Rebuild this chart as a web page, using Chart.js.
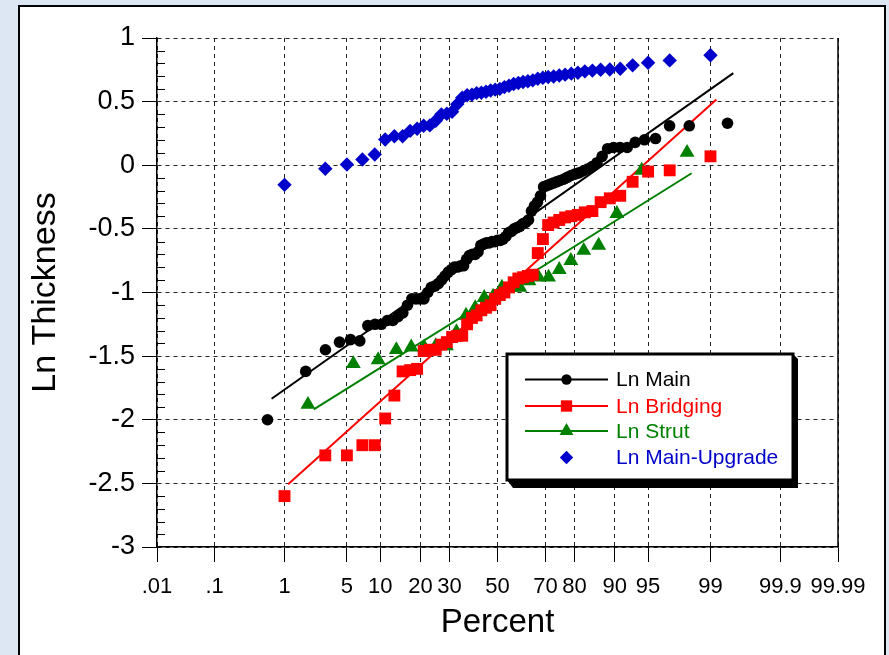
<!DOCTYPE html>
<html><head><meta charset="utf-8">
<script src="https://cdn.jsdelivr.net/npm/chart.js@4.4.0/dist/chart.umd.min.js"></script>
<style>
html,body{margin:0;padding:0;width:889px;height:655px;overflow:hidden;background:#dde7f3;}
#panel{position:absolute;left:18px;top:5px;width:868px;height:700px;background:#fff;border:2px solid #000;box-sizing:border-box;}
#wrap{position:absolute;left:0;top:0;width:889px;height:655px;}
</style></head><body>
<div id="panel"></div>
<div id="wrap"><canvas id="c" width="889" height="655"></canvas></div>
<script>
// ---- tick labels (percent axis) ----
const percentTicks = [0.01, 0.1, 1, 5, 10, 20, 30, 50, 70, 80, 90, 95, 99, 99.9, 99.99];
const percentTickLabels = ['.01', '.1', '1', '5', '10', '20', '30', '50', '70', '80', '90', '95', '99', '99.9', '99.99'];
const yTicks = [-3, -2.5, -2, -1.5, -1, -0.5, 0, 0.5, 1];

// ---- Ln Main ----
const mainPct = [0.60,1.81,3.01,4.22,5.42,6.63,7.83,9.04,10.24,11.45,12.65,13.86,15.06,16.27,17.47,18.67,19.88,21.08,22.29,23.49,24.70,25.90,27.11,28.31,29.52,30.72,31.93,33.13,34.34,35.54,36.75,37.95,39.16,40.36,41.57,42.77,43.98,45.18,46.39,47.59,48.80,50.00,51.20,52.41,53.61,54.82,56.02,57.23,58.43,59.64,60.84,62.05,63.25,64.46,65.66,66.87,68.07,69.28,70.48,71.69,72.89,74.10,75.30,76.51,77.71,78.92,80.12,81.33,82.53,83.73,84.94,86.14,87.35,88.55,89.76,90.96,92.17,93.37,94.58,95.78,96.99,98.19,99.40];
const mainVal = [-2.00,-1.62,-1.45,-1.39,-1.37,-1.38,-1.26,-1.25,-1.25,-1.22,
 -1.22,-1.19,-1.16,-1.10,-1.05,-1.05,-1.05,-1.05,-1.00,-0.96,
 -0.95,-0.93,-0.90,-0.87,-0.84,-0.82,-0.80,-0.80,-0.79,-0.79,
 -0.74,-0.71,-0.70,-0.70,-0.68,-0.63,-0.62,-0.61,-0.61,-0.60,
 -0.60,-0.59,-0.59,-0.58,-0.56,-0.53,-0.52,-0.50,-0.49,-0.48,
 -0.46,-0.45,-0.43,-0.36,-0.32,-0.29,-0.24,-0.17,-0.16,-0.15,
 -0.14,-0.13,-0.12,-0.11,-0.095,-0.08,-0.07,-0.06,-0.045,-0.03,
 -0.01,0.02,0.07,0.13,0.14,0.14,0.14,0.18,0.20,0.21,
 0.31,0.31,0.33];
const mainFitPct = [0.68, 99.5];
const mainFitVal = [-1.835, 0.724];

// ---- Ln Bridging ----
const bridgingPct = [1,3,5,7,9,11,13,15,17,19,21,23,25,27,29,31,33,35,37,39,41,43,45,47,49,51,53,55,57,59,61,63,65,67,69,71,73,75,77,79,81,83,85,87,89,91,93,95,97,99];
const bridgingVal = [-2.60,-2.28,-2.28,-2.20,-2.20,-1.99,-1.81,-1.62,-1.61,-1.60,
 -1.46,-1.45,-1.45,-1.41,-1.39,-1.35,-1.34,-1.34,-1.25,-1.20,
 -1.18,-1.14,-1.12,-1.10,-1.05,-1.02,-1.00,-0.96,-0.92,-0.89,
 -0.88,-0.87,-0.86,-0.69,-0.58,-0.47,-0.45,-0.43,-0.41,-0.40,
 -0.39,-0.37,-0.36,-0.29,-0.26,-0.24,-0.13,-0.05,-0.04,0.07];
const bridgingFitPct = [1.11, 99.16];
const bridgingFitVal = [-2.506, 0.517];

// ---- Ln Strut ----
const strutPct = [1.92,5.77,9.62,13.46,17.31,21.15,25.00,28.85,32.69,36.54,40.38,44.23,48.08,51.92,55.77,59.62,63.46,67.31,71.15,75.00,78.85,82.69,86.54,90.38,94.23,98.08];
const strutVal = [-1.88,-1.56,-1.53,-1.45,-1.43,-1.43,-1.42,-1.42,-1.31,-1.18,-1.12,-1.04,-1.03,-0.96,-0.96,-0.96,-0.91,-0.88,-0.88,-0.82,-0.75,-0.67,-0.63,-0.38,-0.04,0.10];
const strutFitPct = [2.24, 98.3];
const strutFitVal = [-1.918, -0.063];

// ---- Ln Main-Upgrade ----
const upgradePct = [1,3,5,7,9,11,13,15,17,19,21,23,25,27,29,31,33,35,37,39,41,43,45,47,49,51,53,55,57,59,61,63,65,67,69,71,73,75,77,79,81,83,85,87,89,91,93,95,97,99];
const upgradeVal = [-0.154,-0.028,0.006,0.045,0.084,0.202,0.228,0.228,0.27,0.287,
 0.31,0.313,0.35,0.40,0.405,0.42,0.48,0.53,0.55,0.555,
 0.567,0.57,0.578,0.588,0.594,0.60,0.614,0.625,0.638,0.646,
 0.654,0.66,0.667,0.68,0.688,0.693,0.698,0.705,0.712,0.72,
 0.727,0.738,0.744,0.75,0.753,0.758,0.785,0.806,0.824,0.864];

// inverse normal CDF (probability scale transform)
function probit(p){
 const a=[-3.969683028665376e+01,2.209460984245205e+02,-2.759285104469687e+02,1.383577518672690e+02,-3.066479806614716e+01,2.506628277459239e+00];
 const b=[-5.447609879822406e+01,1.615858368580409e+02,-1.556989798598866e+02,6.680131188771972e+01,-1.328068155288572e+01];
 const c=[-7.784894002430293e-03,-3.223964580411365e-01,-2.400758277161838e+00,-2.549732539343734e+00,4.374664141464968e+00,2.938163982698783e+00];
 const d=[7.784695709041462e-03,3.224671290700398e-01,2.445134137142996e+00,3.754408661907416e+00];
 const pl=0.02425, ph=1-pl; let q,r;
 if(p<pl){q=Math.sqrt(-2*Math.log(p));return (((((c[0]*q+c[1])*q+c[2])*q+c[3])*q+c[4])*q+c[5])/((((d[0]*q+d[1])*q+d[2])*q+d[3])*q+1);}
 if(p<=ph){q=p-0.5;r=q*q;return (((((a[0]*r+a[1])*r+a[2])*r+a[3])*r+a[4])*r+a[5])*q/(((((b[0]*r+b[1])*r+b[2])*r+b[3])*r+b[4])*r+1);}
 q=Math.sqrt(-2*Math.log(1-p));return -(((((c[0]*q+c[1])*q+c[2])*q+c[3])*q+c[4])*q+c[5])/((((d[0]*q+d[1])*q+d[2])*q+d[3])*q+1);
}
const toZ = p => probit(p/100);
const pts = (pct, val) => pct.map((p,i)=>({x: toZ(p), y: val[i]}));

const FONT = "'Liberation Sans', Arial, Helvetica, sans-serif";
Chart.defaults.font.family = FONT;
Chart.defaults.color = '#000';

const series = [
 {label:'Ln Main', color:'#000000', style:'circle', r:5.8, line:true},
 {label:'Ln Bridging', color:'#ff0000', style:'rect', r:8.4, line:true},
 {label:'Ln Strut', color:'#008000', style:'triangle', r:8.6, line:true},
 {label:'Ln Main-Upgrade', color:'#0000cc', style:'rectRot', r:7.2, line:false}
];

function marker(ctx, style, x, y, r, color){
 ctx.fillStyle = color; ctx.beginPath();
 if(style==='circle'){ctx.arc(x,y,r,0,Math.PI*2);}
 else if(style==='rect'){const s=r*Math.SQRT1_2;ctx.rect(x-s,y-s,2*s,2*s);}
 else if(style==='triangle'){for(let k=0;k<3;k++){const a=k*2*Math.PI/3;const px=x+Math.sin(a)*r, py=y-Math.cos(a)*r; k?ctx.lineTo(px,py):ctx.moveTo(px,py);}ctx.closePath();}
 else if(style==='rectRot'){ctx.moveTo(x-r,y);ctx.lineTo(x,y-r);ctx.lineTo(x+r,y);ctx.lineTo(x,y+r);ctx.closePath();}
 ctx.fill();
}

const extras = {
 id:'extras',
 afterDraw(chart){
  const ctx = chart.ctx, {left,right,top,bottom} = chart.chartArea, ys = chart.scales.y;
  ctx.save();
  ctx.strokeStyle = '#000'; ctx.lineWidth = 1;
  for(let i=-29;i<=9;i++){
   if(i%5===0) continue;
   const py = Math.round(ys.getPixelForValue(i/10))+0.5;
   ctx.beginPath(); ctx.moveTo(left,py); ctx.lineTo(left+8,py); ctx.stroke();
  }
  ctx.lineWidth = 1.5;
  ctx.beginPath(); ctx.moveTo(right, top); ctx.lineTo(right, bottom); ctx.stroke();
  // legend
  const lx=507, ly=354, lw=286, lh=126;
  ctx.fillStyle='#000';
  ctx.beginPath(); ctx.moveTo(lx+lw,ly); ctx.lineTo(lx+lw+5,ly+5); ctx.lineTo(lx+lw+5,ly+lh+8); ctx.lineTo(lx+6,ly+lh+8); ctx.lineTo(lx,ly+lh); ctx.closePath(); ctx.fill();
  ctx.fillStyle='#fff'; ctx.fillRect(lx,ly,lw,lh);
  ctx.lineWidth=3; ctx.strokeStyle='#000'; ctx.strokeRect(lx,ly,lw,lh);
  const rows=[379.5,406,431,457.5];
  ctx.font = '21px ' + FONT; ctx.textBaseline='middle'; ctx.textAlign='left';
  series.forEach((s,i)=>{
   const y=rows[i];
   if(s.line){ctx.strokeStyle=s.color;ctx.lineWidth=2;ctx.beginPath();ctx.moveTo(525,y);ctx.lineTo(608,y);ctx.stroke();}
   marker(ctx, s.style, 566.5, y, s.style==='circle'?5.2:s.style==='rect'?8:s.style==='triangle'?8:6.7, s.color);
   ctx.fillStyle=s.color; ctx.fillText(s.label, 616, y+1);
  });
  ctx.restore();
 }
};

const pointSets = [pts(mainPct,mainVal), pts(bridgingPct,bridgingVal), pts(strutPct,strutVal), pts(upgradePct,upgradeVal)];
const fitSets = [pts(mainFitPct,mainFitVal), pts(bridgingFitPct,bridgingFitVal), pts(strutFitPct,strutFitVal)];

const datasets = [];
series.forEach((s,i)=>{
 datasets.push({label:s.label, data:pointSets[i], showLine:false, pointStyle:s.style, pointRadius:s.r, pointBackgroundColor:s.color, pointBorderWidth:0, backgroundColor:s.color, borderColor:s.color});
});
fitSets.forEach((d,i)=>{
 datasets.push({label:series[i].label+' fit', data:d, showLine:true, pointRadius:0, borderColor:series[i].color, borderWidth:2, fill:false});
});

new Chart(document.getElementById('c'), {
 type:'scatter',
 data:{datasets},
 options:{
  responsive:false, animation:false, devicePixelRatio:1, events:[],
  layout:{padding:{left:0, top:38, right:51, bottom:0}},
  plugins:{legend:{display:false}, tooltip:{enabled:false}},
  scales:{
   x:{type:'linear', min:toZ(percentTicks[0]), max:toZ(percentTicks[percentTicks.length-1]),
    afterBuildTicks:(s)=>{s.ticks = percentTicks.map(p=>({value:toZ(p)}));},
    afterFit:(s)=>{s.height=108;},
    ticks:{autoSkip:false, maxRotation:0, minRotation:0, padding:12, color:'#000', font:{size:22}, callback:(v,i)=>percentTickLabels[i]},
    grid:{color:'#222', lineWidth:1, drawTicks:true, tickLength:15, tickColor:'#000', tickWidth:1, tickBorderDash:[]},
    border:{display:true, color:'#000', width:1.5, dash:[4,4]},
    title:{display:true, text:'Percent', color:'#000', font:{size:33}, padding:{top:0,bottom:12}}
   },
   y:{type:'linear', min:-3, max:1,
    afterBuildTicks:(s)=>{s.ticks = yTicks.map(v=>({value:v}));},
    afterFit:(s)=>{s.width=157;},
    ticks:{padding:7, color:'#000', font:{size:27}, callback:(v)=>String(Math.round(v*10)/10)},
    grid:{color:'#222', lineWidth:1, drawTicks:true, tickLength:15, tickColor:'#000', tickWidth:1, tickBorderDash:[]},
    border:{display:true, color:'#000', width:1.5, dash:[4,4]},
    title:{display:true, text:'Ln Thickness', color:'#000', font:{size:34}, padding:{top:25,bottom:0}}
   }
  }
 },
 plugins:[extras]
});
</script>
</body></html>
